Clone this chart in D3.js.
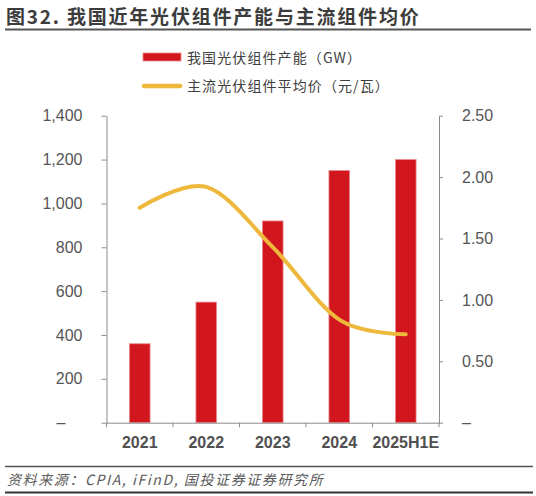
<!DOCTYPE html>
<html><head><meta charset="utf-8">
<script src="https://cdn.jsdelivr.net/npm/d3@7"></script>
<style>
html,body{margin:0;padding:0;background:#fff;}
svg{display:block;}
</style></head>
<body>
<svg id="chart" width="536" height="496"></svg>
<script>
const categories = ["2021", "2022", "2023", "2024", "2025H1E"];
const capacity = [360, 550, 920, 1150, 1200];       // GW
const price = [1.75, 1.92, 1.43, 0.84, 0.72];        // 元/瓦
const leftTicks = [0, 200, 400, 600, 800, 1000, 1200, 1400];
const rightTicks = [0, 0.5, 1.0, 1.5, 2.0, 2.5];
const titleText = "图32. 我国近年光伏组件产能与主流组件均价";
const legendLabels = ["我国光伏组件产能（GW）", "主流光伏组件平均价（元/瓦）"];
const sourceText = "资料来源：CPIA, iFinD, 国投证券证券研究所";

(function () {
const svg = d3.select("#chart");
const pL = 106.5, pR = 439, pT = 115.7, pB = 422.7;
const RED = "#D2161E", YEL = "#EDB83C", AX = "#8c8c8c";
const cjk = "'Noto Sans CJK SC', 'Noto Sans', sans-serif";
const num = "'Liberation Sans', Arial, sans-serif";

// title
svg.append("text").attr("x", 6).attr("y", 24)
  .attr("font-family", cjk).attr("font-size", 19).attr("font-weight", "bold")
  .attr("letter-spacing", 1.8).attr("fill", "#3c3c3c").text(titleText);
svg.append("line").attr("x1", 5).attr("x2", 531).attr("y1", 29.5).attr("y2", 29.5)
  .attr("stroke", "#555").attr("stroke-width", 2);

// scales
const x = d3.scaleBand().domain(categories).range([pL, pR]).padding(0);
const yL = d3.scaleLinear().domain([0, 1400]).range([pB, pT]);
const yR = d3.scaleLinear().domain([0, 2.5]).range([pB, pT]);
const barW = x.bandwidth() * 0.31;

// bars
svg.append("g").selectAll("rect").data(categories).join("rect")
  .attr("x", (d) => x(d) + (x.bandwidth() - barW) / 2)
  .attr("width", barW)
  .attr("y", (d, i) => yL(capacity[i]))
  .attr("height", (d, i) => pB - yL(capacity[i]))
  .attr("fill", RED).attr("stroke", "#e98a8e").attr("stroke-width", 0.8);

// left axis
const gL = svg.append("g").attr("transform", `translate(${pL},0)`)
  .call(d3.axisLeft(yL).tickValues(leftTicks).tickSize(5).tickSizeOuter(0).tickPadding(19)
    .tickFormat((d) => d === 0 ? "–" : d3.format(",")(d)));
gL.selectAll("text").filter((d) => d === 0).attr("dx", -17);
// right axis
const gR = svg.append("g").attr("transform", `translate(${pR},0)`)
  .call(d3.axisRight(yR).tickValues(rightTicks).tickSize(4).tickSizeOuter(0).tickPadding(19)
    .tickFormat((d) => d === 0 ? "–" : d3.format(".2f")(d)));
[gL, gR].forEach((g) => {
  g.select(".domain").attr("stroke", AX);
  g.selectAll(".tick line").attr("stroke", AX);
  g.selectAll("text").attr("font-family", num).attr("font-size", 16).attr("fill", "#555555");
});

// x axis
const gX = svg.append("g").attr("transform", `translate(0,${pB})`)
  .call(d3.axisBottom(x).tickSize(0).tickPadding(14));
gX.select(".domain").attr("stroke", AX);
gX.selectAll("text").attr("font-family", num).attr("font-size", 16).attr("font-weight", "bold").attr("fill", "#505050");
const bounds = categories.map((d) => x(d)).concat([x(categories[categories.length - 1]) + x.bandwidth()]);
gX.selectAll(".bt").data(bounds).join("line").attr("class", "bt")
  .attr("x1", (d) => d).attr("x2", (d) => d).attr("y1", 0).attr("y2", 4.5).attr("stroke", AX);

// line
const line = d3.line().x((d, i) => x(categories[i]) + x.bandwidth() / 2).y((d) => yR(d))
  .curve(d3.curveCardinal.tension(0));
svg.append("path").datum(price).attr("d", line).attr("fill", "none")
  .attr("stroke", YEL).attr("stroke-width", 4).attr("stroke-linecap", "round");

// legend
svg.append("rect").attr("x", 143).attr("y", 53).attr("width", 38).attr("height", 8).attr("fill", RED)
  .attr("stroke", "#e98a8e").attr("stroke-width", 0.8);
svg.append("line").attr("x1", 144).attr("x2", 180).attr("y1", 86).attr("y2", 86)
  .attr("stroke", YEL).attr("stroke-width", 4.5).attr("stroke-linecap", "round");
legendLabels.forEach((t, i) => {
  svg.append("text").attr("x", 187).attr("y", 58 + i * 28).attr("dy", "0.36em")
    .attr("font-family", cjk).attr("font-size", 14).attr("letter-spacing", 1.1)
    .attr("fill", "#404040").text(t);
});

// footer
svg.append("line").attr("x1", 5).attr("x2", 533).attr("y1", 466.5).attr("y2", 466.5).attr("stroke", "#555").attr("stroke-width", 1.5);
svg.append("line").attr("x1", 5).attr("x2", 533).attr("y1", 492.5).attr("y2", 492.5).attr("stroke", "#333").attr("stroke-width", 2);
svg.append("text").attr("x", 7).attr("y", 480).attr("dy", "0.36em")
  .attr("font-family", cjk).attr("font-size", 14).attr("font-style", "italic").attr("letter-spacing", 1.6)
  .attr("fill", "#5a5a5a").text(sourceText);
})();
</script>
</body></html>
